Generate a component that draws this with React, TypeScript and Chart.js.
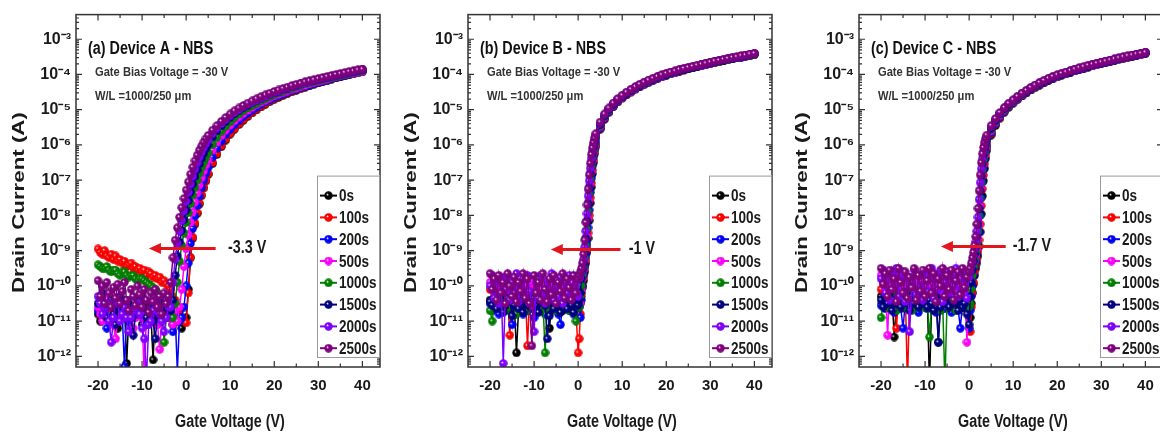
import React, { useEffect, useRef } from "react";
import { Chart, registerables } from "chart.js";
Chart.register(...registerables);

const SERIES_LABELS = ["0s", "100s", "200s", "500s", "1000s", "1500s", "2000s", "2500s"];
const SERIES_COLORS = ["#000000", "#ff0000", "#0000ff", "#ff00ff", "#008000", "#000080", "#8000ff", "#800080"];
const SERIES_EDGE = ["#000000", "#9a0000", "#00008b", "#990099", "#004400", "#00004a", "#4a0099", "#4a004a"];
const X_TICKS = [-20, -10, 0, 10, 20, 30, 40];
const Y_TICK_EXPONENTS = [-12, -11, -10, -9, -8, -7, -6, -5, -4, -3];

// Gate voltage grids (V)
const VG_A = [-20, -19.5, -19, -18.5, -18, -17.5, -17, -16.5, -16, -15.5, -15, -14.5, -14, -13.5, -13, -12.5, -12, -11.5, -11, -10.5,
  -10, -9.5, -9, -8.5, -8, -7.5, -7, -6.5, -6, -5.5, -5, -4.5, -4,
  -3.5, -3, -2.5, -2, -1.5, -1, -0.5, 0, 0.5, 1, 1.5, 2, 2.5, 3, 3.5, 4, 4.5, 5,
  6, 7, 8, 9, 10, 11, 12, 13, 14, 15, 16, 17, 18, 19, 20, 21, 22, 23, 24, 25, 26, 27, 28, 29, 30, 31, 32, 33, 34, 35, 36, 37, 38, 39, 40];
const VG_BC = [-20, -19.5, -19, -18.5, -18, -17.5, -17, -16.5, -16, -15.5, -15, -14.5, -14, -13.5, -13, -12.5, -12, -11.5, -11, -10.5,
  -10, -9.5, -9, -8.5, -8, -7.5, -7, -6.5, -6, -5.5, -5, -4.5, -4, -3.5, -3, -2.5, -2, -1.5, -1, -0.5, 0,
  0.25, 0.5, 0.75, 1, 1.25, 1.5, 1.75, 2, 2.25, 2.5, 2.75, 3, 3.25, 3.5, 3.75, 4,
  5, 6, 7, 8, 9, 10, 11, 12, 13, 14, 15, 16, 17, 18, 19, 20, 21, 22, 23, 24, 25, 26, 27, 28, 29, 30, 31, 32, 33, 34, 35, 36, 37, 38, 39, 40];

// Device A, log10(drain current / A)
const A_0S = [-10.8, -11.0, -10.7, -10.5, -10.9, -10.7, -10.9, -10.6, -10.8, -11.2, -10.7, -10.9, -10.6, -12.2, -10.8, -10.6, -10.9, -10.7, -10.5, -10.8,
  -11.1, -10.7, -10.9, -10.6, -10.8, -12.1, -10.7, -10.9, -11.0, -10.6, -10.8, -10.7, -10.9,
  -10.7, -11.1, -10.8, -11.0, -10.9, -11.2, -10.95, -10.9, -10.1, -9.2, -8.65, -8.25, -7.95, -7.68, -7.44, -7.22, -7.02, -6.84,
  -6.53, -6.27, -6.05, -5.86, -5.69, -5.55, -5.42, -5.3, -5.19, -5.09, -5.0, -4.92, -4.84, -4.77, -4.7,
  -4.65, -4.59, -4.54, -4.49, -4.45, -4.4, -4.36, -4.32, -4.28, -4.24, -4.2, -4.17, -4.13, -4.1, -4.07, -4.04, -4.01, -3.98, -3.95, -3.92];
const A_100S = [-8.95, -9.05, -9.1, -9.0, -9.15, -9.2, -9.1, -9.25, -9.15, -9.3, -9.25, -9.35, -9.3, -9.45, -9.4, -9.35, -9.5, -9.45, -9.55, -9.5,
  -9.6, -9.55, -9.7, -9.6, -9.65, -9.75, -9.7, -9.8, -9.75, -9.9, -9.85, -9.95, -10.0,
  -10.1, -10.3, -10.4, -10.6, -10.7, -10.9, -11.0, -11.05, -10.2, -9.2, -8.62, -8.22, -7.92, -7.65, -7.42, -7.2, -7.0, -6.82,
  -6.5, -6.24, -6.02, -5.83, -5.67, -5.53, -5.4, -5.28, -5.17, -5.07, -4.98, -4.9, -4.82, -4.75, -4.69,
  -4.63, -4.58, -4.53, -4.48, -4.44, -4.39, -4.35, -4.31, -4.27, -4.23, -4.19, -4.16, -4.12, -4.09, -4.06, -4.03, -4.0, -3.97, -3.94, -3.91];
const A_200S = [-10.7, -10.5, -10.4, -10.8, -11.2, -10.6, -10.6, -10.9, -10.9, -10.5, -10.5, -10.8, -12.3, -10.7, -11.0, -10.6, -10.6, -10.8, -10.8, -10.5,
  -10.4, -10.7, -11.1, -10.6, -10.7, -10.9, -10.5, -10.6, -11.0, -10.7, -10.6, -10.9, -10.8,
  -10.9, -11.3, -10.8, -12.4, -11.0, -10.9, -10.6, -10.0, -9.35, -8.8, -8.37, -8.02, -7.72, -7.45, -7.21, -7.0, -6.81, -6.64,
  -6.35, -6.1, -5.89, -5.71, -5.56, -5.43, -5.31, -5.2, -5.1, -5.01, -4.93, -4.85, -4.78, -4.72, -4.66,
  -4.61, -4.56, -4.51, -4.46, -4.42, -4.38, -4.34, -4.3, -4.26, -4.23, -4.19, -4.16, -4.12, -4.09, -4.06, -4.03, -4.0, -3.97, -3.95, -3.92];
const A_500S = [-10.6, -10.8, -11.0, -10.7, -10.4, -10.6, -10.8, -11.1, -11.5, -10.8, -10.6, -10.7, -10.9, -10.6, -10.5, -10.8, -11.2, -10.9, -10.7, -10.6,
  -10.9, -12.6, -10.8, -10.7, -11.0, -10.8, -10.6, -11.1, -11.8, -10.9, -10.7, -10.8, -10.9,
  -10.8, -11.1, -10.7, -11.0, -10.6, -10.1, -9.45, -8.95, -8.55, -8.2, -7.9, -7.62, -7.37, -7.14, -6.93, -6.74, -6.57, -6.42,
  -6.15, -5.93, -5.74, -5.58, -5.44, -5.32, -5.21, -5.11, -5.02, -4.94, -4.86, -4.79, -4.73, -4.67, -4.61,
  -4.56, -4.52, -4.47, -4.43, -4.39, -4.35, -4.31, -4.27, -4.23, -4.2, -4.17, -4.14, -4.1, -4.07, -4.04, -4.01, -3.98, -3.96, -3.93, -3.91];
const A_1000S = [-9.4, -9.45, -9.5, -9.5, -9.45, -9.55, -9.6, -9.55, -9.55, -9.65, -9.7, -9.6, -9.6, -9.7, -9.75, -9.7, -9.7, -9.8, -9.85, -9.8,
  -9.8, -9.85, -9.9, -9.95, -10.0, -10.05, -10.1, -10.2, -10.3, -10.8, -11.6, -10.9, -10.4,
  -10.6, -10.9, -10.5, -9.9, -9.3, -8.85, -8.5, -8.2, -7.92, -7.66, -7.42, -7.2, -7.0, -6.81, -6.64, -6.49, -6.35, -6.22,
  -5.98, -5.78, -5.61, -5.47, -5.34, -5.22, -5.12, -5.03, -4.95, -4.88, -4.81, -4.74, -4.68, -4.62, -4.57,
  -4.52, -4.47, -4.43, -4.39, -4.35, -4.31, -4.27, -4.24, -4.2, -4.17, -4.14, -4.11, -4.08, -4.05, -4.02, -3.99, -3.96, -3.94, -3.91, -3.89];
const A_1500S = [-10.5, -10.3, -10.2, -10.6, -10.9, -10.5, -10.4, -10.8, -11.1, -10.6, -10.3, -10.5, -10.7, -10.4, -10.5, -10.9, -11.4, -10.8, -10.6, -10.4,
  -10.3, -10.6, -10.9, -10.7, -10.5, -11.0, -11.5, -10.8, -10.4, -10.6, -10.8, -10.6, -10.5,
  -10.7, -10.4, -9.7, -9.15, -8.75, -8.42, -8.12, -7.85, -7.58, -7.34, -7.11, -6.9, -6.71, -6.54, -6.38, -6.24, -6.11, -5.99,
  -5.77, -5.6, -5.46, -5.33, -5.21, -5.11, -5.02, -4.94, -4.87, -4.8, -4.73, -4.67, -4.62, -4.57, -4.52,
  -4.47, -4.43, -4.39, -4.35, -4.31, -4.27, -4.24, -4.2, -4.17, -4.14, -4.11, -4.08, -4.05, -4.02, -3.99, -3.97, -3.94, -3.92, -3.89, -3.87];
const A_2000S = [-10.3, -10.5, -10.8, -10.6, -10.5, -11.0, -11.6, -10.9, -10.4, -10.5, -11.0, -10.8, -10.6, -10.9, -11.3, -10.9, -10.7, -10.6, -10.5, -10.8,
  -11.2, -11.5, -12.6, -11.1, -11.0, -10.7, -10.4, -10.6, -10.8, -11.0, -11.3, -10.9, -10.6,
  -10.6, -9.9, -9.25, -8.8, -8.45, -8.15, -7.87, -7.6, -7.35, -7.11, -6.89, -6.69, -6.51, -6.35, -6.2, -6.07, -5.96, -5.86,
  -5.67, -5.52, -5.39, -5.28, -5.17, -5.08, -5.0, -4.92, -4.85, -4.79, -4.73, -4.67, -4.62, -4.57, -4.52,
  -4.47, -4.43, -4.39, -4.35, -4.31, -4.28, -4.24, -4.21, -4.17, -4.14, -4.11, -4.08, -4.05, -4.02, -3.99, -3.97, -3.94, -3.91, -3.88, -3.86];
const A_2500S = [-9.85, -10.3, -10.0, -10.5, -9.9, -10.2, -10.6, -10.05, -10.35, -9.95, -10.5, -10.15, -9.9, -10.4, -10.7, -10.1, -10.3, -10.55, -10.0, -10.25,
  -10.6, -10.1, -10.4, -10.75, -10.2, -10.45, -10.1, -10.6, -10.3, -10.8, -10.2, -10.5, -10.3,
  -9.9, -9.2, -8.7, -8.35, -8.05, -7.78, -7.52, -7.28, -7.05, -6.83, -6.63, -6.45, -6.29, -6.15, -6.03, -5.92, -5.82, -5.73,
  -5.58, -5.45, -5.33, -5.22, -5.12, -5.03, -4.95, -4.88, -4.81, -4.75, -4.69, -4.63, -4.58, -4.53, -4.48,
  -4.44, -4.4, -4.36, -4.32, -4.28, -4.25, -4.21, -4.18, -4.15, -4.12, -4.09, -4.06, -4.03, -4.0, -3.98, -3.95, -3.92, -3.9, -3.87, -3.85];

// Device B
const B_0S = [-10.4, -10.6, -10.3, -10.5, -10.7, -10.4, -10.5, -10.3, -10.6, -10.4, -10.7, -10.5, -11.9, -10.6, -10.4, -10.3, -10.5, -10.7, -10.4, -10.6,
  -10.5, -10.3, -10.6, -10.4, -10.5, -10.7, -10.4, -11.2, -10.5, -10.3, -10.6, -10.4, -10.5, -10.7, -10.4, -10.6, -10.3, -10.5, -10.4, -10.6, -10.5,
  -10.8, -10.5, -10.2, -10.05, -9.85, -9.6, -9.35, -9.05, -8.65, -8.15, -7.65, -7.2, -6.82, -6.5, -6.25, -6.05,
  -5.55, -5.27, -5.07, -4.91, -4.77, -4.66, -4.56, -4.48, -4.4, -4.33, -4.27, -4.21, -4.15, -4.1, -4.05, -4.01,
  -3.97, -3.93, -3.9, -3.86, -3.83, -3.8, -3.77, -3.74, -3.71, -3.68, -3.65, -3.62, -3.6, -3.57, -3.55, -3.52, -3.5, -3.47, -3.45, -3.42];
const B_100S = [-10.1, -10.0, -10.2, -10.3, -10.1, -10.0, -10.3, -10.2, -10.4, -11.4, -10.2, -10.0, -10.3, -10.1, -10.2, -10.4, -10.1, -11.7, -10.3, -10.0,
  -10.2, -10.1, -10.3, -10.0, -10.2, -10.4, -10.1, -10.2, -10.0, -10.3, -10.1, -10.2, -10.4, -10.0, -10.2, -10.1, -10.3, -10.2, -10.5, -10.7, -11.9,
  -11.5, -10.8, -10.3, -10.0, -9.75, -9.5, -9.25, -8.9, -8.5, -8.0, -7.5, -7.08, -6.72, -6.42, -6.18, -5.99,
  -5.54, -5.26, -5.06, -4.91, -4.78, -4.67, -4.58, -4.5, -4.42, -4.35, -4.28, -4.22, -4.17, -4.12, -4.07, -4.02,
  -3.98, -3.95, -3.91, -3.88, -3.84, -3.81, -3.78, -3.75, -3.72, -3.69, -3.66, -3.64, -3.61, -3.58, -3.56, -3.53, -3.51, -3.48, -3.46, -3.43];
const B_200S = [-10.5, -10.7, -10.6, -10.4, -10.8, -10.5, -10.6, -10.7, -10.4, -10.6, -11.1, -10.5, -10.7, -10.4, -10.6, -10.8, -10.5, -10.7, -10.6, -10.4,
  -10.9, -10.6, -10.5, -10.7, -10.4, -10.8, -10.6, -10.5, -10.7, -10.4, -10.6, -10.8, -11.1, -10.5, -10.6, -10.4, -10.7, -10.5, -10.8, -10.6, -10.6,
  -10.6, -10.9, -10.4, -10.0, -9.7, -9.45, -9.15, -8.8, -8.35, -7.85, -7.35, -6.95, -6.6, -6.33, -6.11, -5.93,
  -5.52, -5.24, -5.05, -4.9, -4.77, -4.66, -4.57, -4.49, -4.41, -4.34, -4.28, -4.22, -4.16, -4.11, -4.06, -4.02,
  -3.98, -3.94, -3.91, -3.87, -3.84, -3.81, -3.78, -3.75, -3.72, -3.69, -3.66, -3.63, -3.61, -3.58, -3.56, -3.53, -3.51, -3.48, -3.46, -3.43];
const B_500S = [-9.9, -10.1, -10.2, -10.0, -9.9, -10.15, -10.3, -10.0, -9.85, -10.1, -10.2, -9.95, -10.4, -10.0, -10.1, -9.9, -10.25, -10.0, -10.1, -9.85,
  -10.2, -10.4, -10.0, -10.1, -9.9, -10.3, -10.05, -10.2, -9.9, -10.1, -10.6, -10.0, -10.2, -9.95, -10.1, -10.3, -10.0, -9.9, -10.2, -10.5, -10.1,
  -10.2, -10.5, -10.1, -9.8, -9.55, -9.3, -9.0, -8.6, -8.1, -7.6, -7.15, -6.78, -6.47, -6.23, -6.04, -5.88,
  -5.48, -5.21, -5.02, -4.87, -4.74, -4.64, -4.55, -4.47, -4.39, -4.32, -4.26, -4.2, -4.15, -4.1, -4.05, -4.0,
  -3.97, -3.93, -3.9, -3.86, -3.83, -3.8, -3.77, -3.74, -3.71, -3.68, -3.65, -3.62, -3.6, -3.57, -3.55, -3.52, -3.5, -3.47, -3.45, -3.42];
const B_1000S = [-10.7, -11.0, -10.5, -10.4, -10.6, -10.3, -10.5, -10.7, -10.4, -10.6, -10.3, -10.5, -10.8, -10.4, -10.6, -10.5, -10.3, -10.7, -10.5, -10.4,
  -10.6, -10.3, -10.5, -10.7, -10.4, -11.9, -10.6, -10.4, -10.5, -10.3, -10.7, -10.5, -10.4, -10.6, -10.3, -10.5, -10.7, -10.4, -10.6, -11.0, -10.5,
  -10.6, -10.3, -10.0, -9.7, -9.45, -9.2, -8.85, -8.4, -7.9, -7.4, -6.98, -6.62, -6.35, -6.13, -5.96, -5.82,
  -5.45, -5.19, -5.01, -4.86, -4.73, -4.63, -4.54, -4.46, -4.38, -4.31, -4.25, -4.19, -4.14, -4.09, -4.04, -3.99,
  -3.96, -3.92, -3.89, -3.85, -3.82, -3.79, -3.76, -3.73, -3.7, -3.67, -3.65, -3.62, -3.6, -3.57, -3.55, -3.52, -3.5, -3.47, -3.45, -3.42];
const B_1500S = [-10.45, -10.55, -10.35, -10.65, -10.45, -10.25, -10.75, -10.55, -10.35, -10.45, -10.85, -10.55, -10.35, -10.65, -10.45, -10.75, -10.25, -10.55, -10.45, -10.65,
  -10.35, -10.55, -10.75, -10.45, -10.25, -10.55, -11.5, -10.85, -10.45, -10.65, -10.35, -10.55, -10.75, -10.45, -10.25, -10.65, -10.45, -10.55, -10.75, -10.35, -10.55,
  -10.4, -10.2, -9.8, -9.55, -9.35, -9.05, -8.65, -8.15, -7.65, -7.2, -6.8, -6.48, -6.24, -6.05, -5.9, -5.77,
  -5.42, -5.17, -4.99, -4.84, -4.72, -4.62, -4.53, -4.45, -4.37, -4.3, -4.24, -4.18, -4.13, -4.08, -4.03, -3.99,
  -3.95, -3.92, -3.88, -3.85, -3.82, -3.79, -3.76, -3.73, -3.7, -3.67, -3.64, -3.61, -3.59, -3.56, -3.54, -3.51, -3.49, -3.46, -3.44, -3.41];
const B_2000S = [-10.0, -9.7, -10.35, -9.85, -10.5, -9.75, -12.2, -10.1, -9.7, -10.4, -9.9, -10.2, -9.65, -10.45, -10.0, -9.8, -10.3, -9.7, -10.15, -10.5,
  -11.3, -9.9, -10.35, -9.7, -10.2, -10.5, -9.85, -10.1, -9.65, -10.4, -10.0, -10.3, -9.75, -10.5, -9.9, -10.2, -9.7, -10.35, -10.05, -9.8, -10.3,
  -9.8, -9.7, -9.6, -9.45, -9.25, -8.9, -8.45, -7.95, -7.45, -7.02, -6.66, -6.38, -6.16, -5.99, -5.85, -5.72,
  -5.38, -5.14, -4.97, -4.82, -4.7, -4.6, -4.51, -4.43, -4.36, -4.29, -4.23, -4.17, -4.12, -4.07, -4.02, -3.98,
  -3.94, -3.91, -3.87, -3.84, -3.81, -3.78, -3.75, -3.72, -3.69, -3.66, -3.63, -3.61, -3.58, -3.56, -3.53, -3.51, -3.48, -3.46, -3.43, -3.41];
const B_2500S = [-9.65, -10.1, -9.8, -10.4, -9.7, -10.2, -9.9, -10.5, -9.65, -10.0, -10.3, -9.75, -10.45, -9.9, -10.15, -9.65, -10.35, -9.8, -10.5, -11.7,
  -9.7, -10.2, -9.9, -10.4, -9.65, -10.1, -10.45, -9.8, -10.25, -9.7, -10.5, -9.9, -10.15, -9.65, -10.35, -9.8, -10.05, -10.4, -9.7, -10.2, -9.8,
  -9.7, -9.6, -9.5, -9.35, -9.1, -8.7, -8.2, -7.7, -7.25, -6.85, -6.52, -6.27, -6.08, -5.93, -5.8, -5.68,
  -5.35, -5.12, -4.95, -4.81, -4.69, -4.59, -4.5, -4.42, -4.35, -4.28, -4.22, -4.16, -4.11, -4.06, -4.01, -3.97,
  -3.93, -3.9, -3.86, -3.83, -3.8, -3.77, -3.74, -3.71, -3.68, -3.65, -3.62, -3.6, -3.57, -3.55, -3.52, -3.5, -3.47, -3.45, -3.42, -3.4];

// Device C
const C_0S = [-10.3, -10.5, -10.2, -10.6, -10.4, -10.3, -11.45, -10.5, -10.2, -10.4, -10.6, -10.3, -10.5, -10.2, -10.4, -10.6, -10.3, -10.5, -10.2, -10.4,
  -10.6, -10.3, -12.8, -10.4, -10.5, -10.3, -11.6, -10.4, -10.2, -10.5, -10.3, -10.6, -10.4, -10.2, -10.5, -10.3, -10.4, -10.6, -10.3, -10.5, -10.9,
  -10.9, -10.5, -10.2, -9.95, -9.7, -9.5, -9.35, -9.15, -8.88, -8.47, -7.96, -7.45, -7.02, -6.67, -6.38, -6.15,
  -5.72, -5.45, -5.24, -5.07, -4.93, -4.81, -4.71, -4.61, -4.52, -4.44, -4.37, -4.3, -4.23, -4.17, -4.12, -4.07,
  -4.02, -3.98, -3.94, -3.9, -3.86, -3.82, -3.79, -3.75, -3.72, -3.69, -3.66, -3.63, -3.6, -3.57, -3.54, -3.51, -3.48, -3.45, -3.43, -3.4];
const C_100S = [-10.1, -9.9, -10.2, -10.0, -10.3, -10.1, -9.95, -11.2, -10.2, -10.0, -10.3, -10.1, -12.8, -10.2, -9.9, -10.1, -10.3, -10.0, -10.2, -9.95,
  -10.1, -10.4, -10.0, -10.2, -9.9, -10.1, -10.3, -10.0, -10.2, -10.1, -9.9, -10.3, -10.1, -10.0, -10.2, -10.4, -10.1, -10.0, -10.3, -10.1, -10.2,
  -11.3, -10.6, -10.2, -9.9, -9.6, -9.42, -9.25, -9.02, -8.7, -8.25, -7.73, -7.25, -6.86, -6.54, -6.28, -6.07,
  -5.68, -5.42, -5.22, -5.05, -4.91, -4.8, -4.7, -4.6, -4.52, -4.44, -4.36, -4.29, -4.23, -4.17, -4.11, -4.06,
  -4.01, -3.97, -3.93, -3.89, -3.85, -3.82, -3.78, -3.75, -3.72, -3.68, -3.65, -3.62, -3.59, -3.56, -3.54, -3.51, -3.48, -3.45, -3.43, -3.4];
const C_200S = [-10.55, -10.35, -10.65, -10.45, -10.25, -10.55, -10.75, -10.45, -10.35, -10.65, -11.2, -10.45, -10.55, -10.25, -10.65, -10.45, -10.35, -10.75, -10.55, -10.45,
  -10.25, -10.65, -10.45, -10.55, -10.35, -10.75, -10.45, -10.55, -10.25, -10.65, -10.45, -10.35, -10.75, -10.55, -10.45, -10.65, -11.2, -10.45, -10.55, -10.65, -11.2,
  -10.7, -10.3, -10.0, -9.7, -9.45, -9.3, -9.1, -8.85, -8.47, -8.0, -7.5, -7.05, -6.7, -6.42, -6.19, -6.01,
  -5.65, -5.4, -5.2, -5.04, -4.9, -4.79, -4.69, -4.6, -4.51, -4.43, -4.35, -4.28, -4.22, -4.16, -4.11, -4.06,
  -4.01, -3.97, -3.93, -3.89, -3.85, -3.82, -3.78, -3.75, -3.71, -3.68, -3.65, -3.62, -3.59, -3.56, -3.53, -3.5, -3.48, -3.45, -3.42, -3.4];
const C_500S = [-9.7, -9.9, -10.1, -11.4, -9.8, -10.0, -9.75, -10.2, -9.9, -9.7, -10.05, -9.85, -10.15, -9.75, -9.95, -10.2, -9.8, -10.0, -9.7, -10.1,
  -9.9, -10.2, -9.8, -9.95, -10.1, -9.75, -10.0, -9.85, -10.2, -9.9, -9.7, -10.05, -9.8, -10.15, -9.9, -10.0, -9.75, -10.1, -9.9, -11.6, -10.1,
  -10.2, -9.9, -9.65, -9.45, -9.3, -9.15, -8.95, -8.65, -8.25, -7.75, -7.27, -6.87, -6.55, -6.3, -6.1, -5.95,
  -5.6, -5.36, -5.17, -5.01, -4.88, -4.77, -4.67, -4.58, -4.49, -4.41, -4.34, -4.27, -4.21, -4.15, -4.1, -4.05,
  -4.0, -3.96, -3.92, -3.88, -3.84, -3.81, -3.77, -3.74, -3.71, -3.67, -3.64, -3.61, -3.58, -3.55, -3.53, -3.5, -3.47, -3.44, -3.42, -3.39];
const C_1000S = [-10.9, -10.5, -10.3, -10.6, -10.4, -10.2, -10.5, -10.7, -10.3, -10.5, -10.4, -10.6, -10.2, -10.5, -10.7, -10.4, -10.3, -10.6, -10.5, -10.3,
  -10.6, -10.4, -11.45, -10.5, -10.3, -10.6, -10.4, -10.7, -10.5, -12.8, -10.4, -10.6, -10.3, -10.5, -10.7, -10.4, -10.2, -10.5, -10.6, -10.4, -10.6,
  -10.5, -10.1, -9.7, -9.45, -9.25, -9.05, -8.8, -8.45, -8.02, -7.52, -7.07, -6.7, -6.42, -6.2, -6.03, -5.89,
  -5.56, -5.33, -5.14, -4.99, -4.87, -4.76, -4.66, -4.57, -4.48, -4.4, -4.33, -4.26, -4.2, -4.14, -4.09, -4.04,
  -3.99, -3.95, -3.91, -3.87, -3.84, -3.8, -3.77, -3.73, -3.7, -3.67, -3.64, -3.61, -3.58, -3.55, -3.52, -3.49, -3.47, -3.44, -3.41, -3.39];
const C_1500S = [-10.4, -10.6, -10.3, -10.5, -10.2, -10.7, -10.4, -10.5, -10.3, -10.6, -10.4, -10.2, -10.5, -10.7, -10.3, -10.5, -10.4, -10.6, -10.2, -10.5,
  -10.3, -10.6, -10.4, -10.5, -10.7, -10.3, -11.6, -10.6, -10.4, -10.5, -10.2, -10.6, -10.4, -10.3, -10.5, -10.7, -10.4, -10.6, -10.5, -10.8, -11.1,
  -10.3, -9.9, -9.55, -9.3, -9.1, -8.9, -8.62, -8.25, -7.8, -7.3, -6.88, -6.55, -6.3, -6.11, -5.96, -5.83,
  -5.52, -5.3, -5.12, -4.97, -4.85, -4.74, -4.64, -4.55, -4.47, -4.39, -4.32, -4.25, -4.19, -4.13, -4.08, -4.03,
  -3.99, -3.95, -3.91, -3.87, -3.83, -3.8, -3.76, -3.73, -3.7, -3.66, -3.63, -3.6, -3.57, -3.54, -3.52, -3.49, -3.46, -3.43, -3.41, -3.38];
const C_2000S = [-9.8, -9.55, -10.2, -9.7, -10.4, -9.6, -10.05, -9.5, -10.3, -9.85, -9.6, -10.45, -9.75, -11.3, -9.9, -9.55, -10.25, -9.7, -10.0, -10.4,
  -9.6, -10.15, -9.8, -9.5, -10.35, -9.7, -10.1, -9.55, -10.45, -9.9, -9.6, -10.2, -9.75, -10.0, -9.5, -10.3, -9.8, -10.1, -9.6, -10.35, -9.75,
  -9.6, -9.45, -9.3, -9.15, -8.97, -8.75, -8.45, -8.05, -7.55, -7.07, -6.68, -6.39, -6.18, -6.02, -5.89, -5.78,
  -5.48, -5.27, -5.1, -4.95, -4.83, -4.73, -4.63, -4.54, -4.46, -4.38, -4.31, -4.24, -4.18, -4.12, -4.07, -4.02,
  -3.98, -3.94, -3.9, -3.86, -3.82, -3.79, -3.75, -3.72, -3.69, -3.66, -3.63, -3.6, -3.57, -3.54, -3.51, -3.48, -3.46, -3.43, -3.41, -3.38];
const C_2500S = [-9.5, -9.95, -9.65, -10.3, -9.55, -10.1, -9.8, -10.45, -9.5, -9.9, -10.2, -9.6, -10.35, -9.75, -10.05, -9.5, -10.4, -9.7, -10.15, -9.55,
  -10.3, -9.85, -9.5, -10.2, -9.65, -10.45, -9.8, -10.0, -9.5, -10.3, -9.7, -10.1, -9.55, -10.4, -9.85, -9.6, -10.25, -9.5, -10.05, -9.75, -9.6,
  -9.5, -9.35, -9.2, -9.05, -8.85, -8.6, -8.25, -7.8, -7.3, -6.85, -6.5, -6.25, -6.07, -5.93, -5.82, -5.72,
  -5.45, -5.25, -5.08, -4.94, -4.82, -4.72, -4.62, -4.53, -4.45, -4.37, -4.3, -4.23, -4.17, -4.11, -4.06, -4.01,
  -3.97, -3.93, -3.89, -3.85, -3.81, -3.78, -3.74, -3.71, -3.68, -3.65, -3.62, -3.59, -3.56, -3.53, -3.5, -3.47, -3.45, -3.42, -3.4, -3.37];

const FONT = '"Liberation Sans", Arial, sans-serif';
const CONDENSE = 0.82;
const ARROW_COLOR = "#e3161d";
const TEXT_COLOR = "#1a1a1a";
const SUB_LINE_1 = "Gate Bias Voltage = -30 V";
const SUB_LINE_2 = "W/L =1000/250 \u03bcm";
const Y_TITLE = "Drain Current (A)";
const X_TITLE = "Gate Voltage (V)";

type PanelCfg = {
  title: string;
  vg: number[];
  series: number[][];
  shift: string;
  arrowFromV: number;
  arrowToV: number;
  arrowLog: number;
  shiftTextV: number;
};

const PANELS: PanelCfg[] = [
  { title: "(a) Device A - NBS", vg: VG_A, series: [A_0S, A_100S, A_200S, A_500S, A_1000S, A_1500S, A_2000S, A_2500S],
    shift: "-3.3 V", arrowFromV: 6.7, arrowToV: -8.45, arrowLog: -8.94, shiftTextV: 9.5 },
  { title: "(b) Device B - NBS", vg: VG_BC, series: [B_0S, B_100S, B_200S, B_500S, B_1000S, B_1500S, B_2000S, B_2500S],
    shift: "-1 V", arrowFromV: 9.6, arrowToV: -6.2, arrowLog: -8.97, shiftTextV: 11.5 },
  { title: "(c) Device C - NBS", vg: VG_BC, series: [C_0S, C_100S, C_200S, C_500S, C_1000S, C_1500S, C_2000S, C_2500S],
    shift: "-1.7 V", arrowFromV: 8.3, arrowToV: -6.4, arrowLog: -8.88, shiftTextV: 9.9 },
];
const PANEL_LEFT = [0, 392, 783];

const SUP: Record<string, string> = { "-": "\u207b", "0": "\u2070", "1": "\u00b9", "2": "\u00b2", "3": "\u00b3", "4": "\u2074", "5": "\u2075", "6": "\u2076", "7": "\u2077", "8": "\u2078", "9": "\u2079" };
const sup = (n: number) => String(n).split("").map((c) => SUP[c] || c).join("");

// Glossy sphere-like marker, as in the original Origin plot
function makeMarker(color: string, edge: string): HTMLCanvasElement {
  const c = document.createElement("canvas");
  c.width = 9;
  c.height = 9;
  const g = c.getContext("2d") as CanvasRenderingContext2D;
  const grad = g.createRadialGradient(3.3, 3.3, 0.2, 4.5, 4.5, 4.6);
  grad.addColorStop(0, "rgba(255,255,255,0.95)");
  grad.addColorStop(0.28, color);
  grad.addColorStop(0.8, color);
  grad.addColorStop(1, edge);
  g.fillStyle = grad;
  g.beginPath();
  g.arc(4.5, 4.5, 4.2, 0, Math.PI * 2);
  g.fill();
  return c;
}

function narrowText(ctx: CanvasRenderingContext2D, text: string, x: number, y: number, size: number, color: string, align: CanvasTextAlign = "left") {
  ctx.save();
  ctx.font = `bold ${size}px ${FONT}`;
  ctx.translate(x, y);
  ctx.scale(CONDENSE, 1);
  ctx.textAlign = align;
  ctx.textBaseline = "middle";
  ctx.fillStyle = color;
  ctx.fillText(text, 0, 0);
  ctx.restore();
}

function decorPlugin(cfg: PanelCfg) {
  return {
    id: "decor",
    afterDatasetsDraw(chart: any) {
      const { ctx, chartArea: a } = chart;
      const xs = chart.scales.x;
      const ys = chart.scales.y;
      ctx.save();
      ctx.strokeStyle = "#333";
      ctx.lineWidth = 1.5;
      ctx.strokeRect(a.left, a.top, a.right - a.left, a.bottom - a.top);
      ctx.lineWidth = 1.2;
      ctx.beginPath();
      for (let v = -25; v <= 45; v += 5) {
        const px = xs.getPixelForValue(v);
        if (px < a.left + 1 || px > a.right - 1) continue;
        const len = v % 10 === 0 ? 6 : 3.5;
        ctx.moveTo(px, a.bottom);
        ctx.lineTo(px, a.bottom - len);
        ctx.moveTo(px, a.top);
        ctx.lineTo(px, a.top + len);
      }
      for (let e = -13; e <= -2; e++) {
        for (let m = 1; m < 10; m++) {
          const py = ys.getPixelForValue(m * Math.pow(10, e));
          if (py < a.top + 1 || py > a.bottom - 1) continue;
          const len = m === 1 ? 6 : 3;
          ctx.moveTo(a.left, py);
          ctx.lineTo(a.left + len, py);
          ctx.moveTo(a.right, py);
          ctx.lineTo(a.right - len, py);
        }
      }
      ctx.stroke();
      ctx.restore();
    },
    afterDraw(chart: any) {
      const { ctx, chartArea: a } = chart;
      const xs = chart.scales.x;
      const ys = chart.scales.y;
      ctx.save();
      // Y axis title (stretched along its length)
      ctx.save();
      ctx.translate(a.left - 57, a.top + 188);
      ctx.rotate(-Math.PI / 2);
      ctx.font = `bold 17px ${FONT}`;
      const w = ctx.measureText(Y_TITLE).width;
      ctx.scale(181 / w, 1);
      ctx.textAlign = "center";
      ctx.textBaseline = "middle";
      ctx.fillStyle = TEXT_COLOR;
      ctx.fillText(Y_TITLE, 0, 0);
      ctx.restore();

      // X axis title
      narrowText(ctx, X_TITLE, (a.left + a.right) / 2 + 2, 422, 17.5, TEXT_COLOR, "center");

      // Panel texts
      narrowText(ctx, cfg.title, a.left + 12, a.top + 35, 17.5, "#111");
      narrowText(ctx, SUB_LINE_1, a.left + 19, a.top + 58, 13.6, "#333");
      narrowText(ctx, SUB_LINE_2, a.left + 19, a.top + 82, 13.6, "#333");

      // Shift arrow
      const ay = ys.getPixelForValue(Math.pow(10, cfg.arrowLog));
      const x1 = xs.getPixelForValue(cfg.arrowFromV);
      const x2 = xs.getPixelForValue(cfg.arrowToV);
      ctx.strokeStyle = ARROW_COLOR;
      ctx.fillStyle = ARROW_COLOR;
      ctx.lineWidth = 3;
      ctx.beginPath();
      ctx.moveTo(x1, ay);
      ctx.lineTo(x2 + 9, ay);
      ctx.stroke();
      ctx.beginPath();
      ctx.moveTo(x2, ay);
      ctx.lineTo(x2 + 12, ay - 5.5);
      ctx.lineTo(x2 + 12, ay + 5.5);
      ctx.closePath();
      ctx.fill();
      narrowText(ctx, cfg.shift, xs.getPixelForValue(cfg.shiftTextV), ay, 17.5, TEXT_COLOR);

      // Legend
      const bx = a.right - 63;
      const by = a.top + 161;
      const bb = a.bottom - 10;
      ctx.fillStyle = "#fff";
      ctx.fillRect(bx, by, a.right - bx, bb - by);
      ctx.strokeStyle = "#9a9a9a";
      ctx.lineWidth = 1;
      ctx.strokeRect(bx + 0.5, by + 0.5, a.right - bx - 1, bb - by);
      chart.data.datasets.forEach((ds: any, i: number) => {
        const ly = by + 20 + i * 21.8;
        ctx.strokeStyle = ds.borderColor;
        ctx.lineWidth = 2;
        ctx.beginPath();
        ctx.moveTo(bx + 3, ly);
        ctx.lineTo(bx + 20, ly);
        ctx.stroke();
        const img = ds.pointStyle as HTMLCanvasElement;
        ctx.drawImage(img, bx + 11.5 - img.width / 2, ly - img.height / 2);
        narrowText(ctx, ds.label, bx + 22, ly + 1, 16.5, TEXT_COLOR);
      });
      ctx.restore();
    },
  };
}

function Panel({ cfg, left }: { cfg: PanelCfg; left: number }) {
  const ref = useRef<HTMLCanvasElement>(null);
  useEffect(() => {
    const canvas = ref.current as HTMLCanvasElement;
    const markers = SERIES_COLORS.map((c, i) => makeMarker(c, SERIES_EDGE[i]));
    const chart = new Chart(canvas, {
      type: "line",
      data: {
        datasets: cfg.series.map((logs, i) => ({
          label: SERIES_LABELS[i],
          data: cfg.vg.map((v, j) => ({ x: v, y: Math.pow(10, logs[j]) })),
          borderColor: SERIES_COLORS[i],
          backgroundColor: SERIES_COLORS[i],
          pointBackgroundColor: SERIES_COLORS[i],
          pointStyle: markers[i],
          pointRadius: 4,
          borderWidth: 1.5,
          tension: 0,
          order: SERIES_LABELS.length - i,
        })),
      },
      options: {
        responsive: false,
        animation: false,
        devicePixelRatio: 1,
        layout: { padding: { left: 0, right: 12, top: 14, bottom: 0 } },
        plugins: { legend: { display: false }, tooltip: { enabled: false } },
        scales: {
          x: {
            type: "linear",
            min: -25,
            max: 44,
            afterBuildTicks: (s: any) => { s.ticks = X_TICKS.map((v) => ({ value: v })); },
            afterFit: (s: any) => { s.height = 68; },
            grid: { display: false, drawTicks: false },
            border: { display: false },
            ticks: { font: { family: FONT, size: 15, weight: "bold" }, color: TEXT_COLOR, padding: 10, maxRotation: 0, autoSkip: false },
          },
          y: {
            type: "logarithmic",
            min: 5.0e-13,
            max: 5.0e-3,
            afterBuildTicks: (s: any) => { s.ticks = Y_TICK_EXPONENTS.map((e) => ({ value: Math.pow(10, e) })); },
            afterFit: (s: any) => { s.width = 76; },
            grid: { display: false, drawTicks: false },
            border: { display: false },
            ticks: {
              font: { family: FONT, size: 16, weight: "bold" },
              color: TEXT_COLOR,
              padding: 5,
              autoSkip: false,
              callback: (v: any) => "10" + sup(Math.round(Math.log10(Number(v)))),
            },
          },
        },
      } as any,
      plugins: [decorPlugin(cfg)],
    });
    return () => chart.destroy();
  }, [cfg]);
  return (
    <canvas
      ref={ref}
      width={392}
      height={435}
      style={{ position: "absolute", left, top: 0, width: 392, height: 435 }}
    />
  );
}

export default function App() {
  return (
    <div style={{ position: "fixed", left: 0, top: 0, width: 1160, height: 435, overflow: "hidden", background: "#fff" }}>
      {PANELS.map((p, i) => (
        <Panel key={i} cfg={p} left={PANEL_LEFT[i]} />
      ))}
    </div>
  );
}
